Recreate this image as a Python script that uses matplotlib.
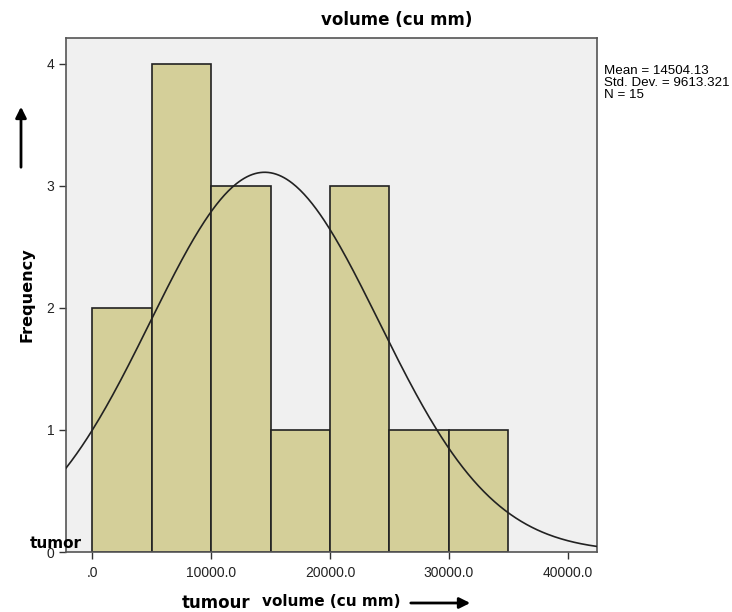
import numpy as np
import matplotlib.pyplot as plt
from matplotlib.patches import FancyArrowPatch

# histogram data
bin_edges = [0, 5000, 10000, 15000, 20000, 25000, 30000, 35000]
counts = [2, 4, 3, 1, 3, 1, 1]
mean_val = 14504.13
std_val = 9613.321
n_val = 15

x_ticks = [0, 10000, 20000, 30000, 40000]
x_tick_labels = [".0", "10000.0", "20000.0", "30000.0", "40000.0"]
y_ticks = [0, 1, 2, 3, 4]

bar_color = "#d4cf99"
bg_color = "#f0f0f0"

fig = plt.figure(figsize=(7.32, 6.12), dpi=100)
ax = fig.add_axes([66 / 732, 60 / 612, 531 / 732, 514 / 612])
ax.set_facecolor(bg_color)

widths = np.diff(bin_edges)
ax.bar(bin_edges[:-1], counts, width=widths, align="edge",
       color=bar_color, edgecolor="#222222", linewidth=1.2, zorder=2)

# fitted normal curve scaled to counts
xs = np.linspace(-2200, 42450, 400)
bw = widths[0]
ys = n_val * bw / (std_val * np.sqrt(2 * np.pi)) * np.exp(-0.5 * ((xs - mean_val) / std_val) ** 2)
ax.plot(xs, ys, color="#222222", lw=1.2, zorder=3)

ax.set_xlim(-2200, 42450)
ax.set_ylim(0, 4.213)
ax.set_xticks(x_ticks)
ax.set_xticklabels(x_tick_labels)
ax.set_yticks(y_ticks)
ax.tick_params(direction="out", length=5, width=1, color="#333333",
               labelsize=10, labelcolor="#222222")
ax.tick_params(axis="x", pad=5)
for lab in ax.get_xticklabels() + ax.get_yticklabels():
    lab.set_fontfamily("Liberation Sans")
for s in ax.spines.values():
    s.set_color("#555555")
    s.set_linewidth(1.2)

# titles and labels
fig.text(397 / 732, 1 - 20 / 612, "volume (cu mm)", ha="center", va="center",
         fontsize=12, fontweight="bold", family="DejaVu Sans")
fig.text(604 / 732, 1 - 65 / 612, "Mean = 14504.13\nStd. Dev. = 9613.321\nN = 15",
         ha="left", va="top", fontsize=9.6, family="Liberation Sans",
         linespacing=1.02)
fig.text(27 / 732, 1 - 295 / 612, "Frequency", rotation=90, ha="center", va="center",
         fontsize=11.6, fontweight="bold", family="DejaVu Sans")
fig.text(56 / 732, 1 - 543 / 612, "tumor", ha="center", va="center",
         fontsize=11, fontweight="bold", family="DejaVu Sans")
fig.text(216 / 732, 1 - 603 / 612, "tumour", ha="center", va="center",
         fontsize=12, fontweight="bold", family="DejaVu Sans")
fig.text(331 / 732, 1 - 601 / 612, "volume (cu mm)", ha="center", va="center",
         fontsize=11, fontweight="bold", family="DejaVu Sans")

# arrows
fig.patches.append(FancyArrowPatch(
    (408 / 732, 1 - 603 / 612), (473 / 732, 1 - 603 / 612),
    transform=fig.transFigure, arrowstyle="-|>", mutation_scale=16,
    color="black", lw=2))
fig.patches.append(FancyArrowPatch(
    (21 / 732, 1 - 170 / 612), (21 / 732, 1 - 104 / 612),
    transform=fig.transFigure, arrowstyle="-|>", mutation_scale=16,
    color="black", lw=2))

fig.savefig("out.png", dpi=100)
